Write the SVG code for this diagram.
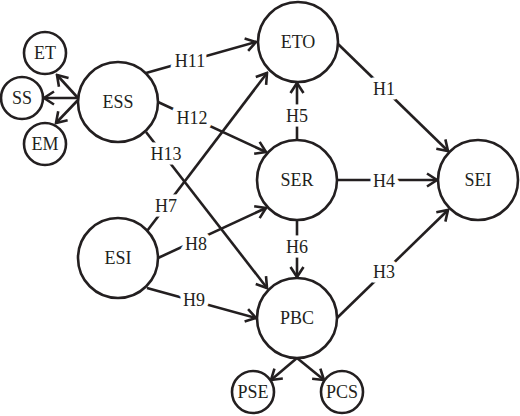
<svg xmlns="http://www.w3.org/2000/svg" width="520" height="416" viewBox="0 0 520 416">
<style>
.n{fill:#fff;stroke:#231f20;stroke-width:2.6}
.t{font-family:"Liberation Serif","Times New Roman",serif;font-size:18px;fill:#231f20;text-anchor:middle}
.e{stroke:#231f20;stroke-width:2.6;fill:none;marker-end:url(#a)}
.l{font-family:"Liberation Serif","Times New Roman",serif;font-size:18px;fill:#231f20;text-anchor:middle;stroke:#fff;stroke-width:9;paint-order:stroke;stroke-linejoin:round}
</style>
<defs>
<marker id="a" viewBox="-13 -8 15 16" refX="0" refY="0" markerWidth="15" markerHeight="16" markerUnits="userSpaceOnUse" orient="auto">
<path d="M-10,-6.5 L0,0 L-10,6.5" fill="none" stroke="#231f20" stroke-width="2.6" stroke-linejoin="miter"/>
</marker>
</defs>
<rect width="520" height="416" fill="#fff"/>
<g id="connectors">
<line class="e" x1="78" y1="98" x2="57" y2="75"/>
<line class="e" x1="78" y1="98" x2="44" y2="98"/>
<line class="e" x1="78" y1="100" x2="56" y2="123"/>
<line class="e" x1="146" y1="73" x2="256" y2="42"/>
<line class="e" x1="158" y1="102" x2="266" y2="152"/>
<line class="e" x1="146" y1="132" x2="267" y2="288"/>
<line class="e" x1="147" y1="231" x2="267" y2="73"/>
<line class="e" x1="158" y1="258" x2="266" y2="208"/>
<line class="e" x1="147" y1="288" x2="256" y2="318"/>
<line class="e" x1="297" y1="140" x2="297" y2="83"/>
<line class="e" x1="297" y1="220" x2="297" y2="277"/>
<line class="e" x1="337" y1="180" x2="437" y2="180"/>
<line class="e" x1="337" y1="43" x2="448" y2="151"/>
<line class="e" x1="337" y1="318" x2="448" y2="210"/>
<line class="e" x1="297" y1="358" x2="271" y2="380"/>
<line class="e" x1="297" y1="358" x2="324" y2="380"/>
<text class="l" x="190" y="67">H11</text>
<text class="l" x="192" y="124">H12</text>
<text class="l" x="166" y="160">H13</text>
<text class="l" x="166" y="212">H7</text>
<text class="l" x="196" y="250">H8</text>
<text class="l" x="194" y="306">H9</text>
<text class="l" x="297" y="122">H5</text>
<text class="l" x="297" y="253">H6</text>
<text class="l" x="384" y="187">H4</text>
<text class="l" x="384" y="95">H1</text>
<text class="l" x="384" y="278">H3</text>
</g>
<g id="ESS"><circle class="n" cx="118" cy="102" r="40"/><text class="t" x="118" y="108">ESS</text></g>
<g id="ESI"><circle class="n" cx="118" cy="258" r="40"/><text class="t" x="118" y="264">ESI</text></g>
<g id="ETO"><circle class="n" cx="298" cy="42" r="40"/><text class="t" x="298" y="48">ETO</text></g>
<g id="SER"><circle class="n" cx="297" cy="180" r="40"/><text class="t" x="297" y="186">SER</text></g>
<g id="PBC"><circle class="n" cx="297" cy="318" r="40"/><text class="t" x="297" y="324">PBC</text></g>
<g id="SEI"><circle class="n" cx="478" cy="180" r="40"/><text class="t" x="478" y="186">SEI</text></g>
<g id="ET"><circle class="n" cx="45" cy="53" r="21"/><text class="t" x="45" y="59">ET</text></g>
<g id="SS"><circle class="n" cx="22" cy="98" r="21"/><text class="t" x="22" y="104">SS</text></g>
<g id="EM"><circle class="n" cx="45" cy="144" r="21"/><text class="t" x="45" y="150">EM</text></g>
<g id="PSE"><circle class="n" cx="253" cy="392" r="21"/><text class="t" x="253" y="398">PSE</text></g>
<g id="PCS"><circle class="n" cx="342" cy="392" r="21"/><text class="t" x="342" y="398">PCS</text></g>
</svg>
